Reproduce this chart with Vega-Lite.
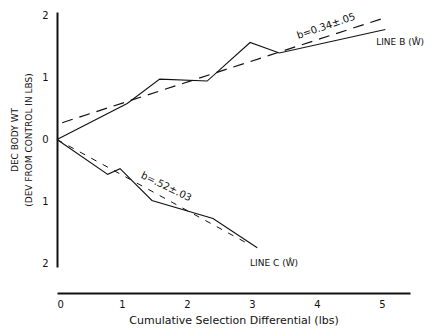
{
  "$schema": "https://vega.github.io/schema/vega-lite/v6.json",
  "autosize": "none",
  "width": 353,
  "height": 255,
  "padding": {"left": 57, "top": 12, "right": 33, "bottom": 64},
  "background": "white",
  "config": {
    "view": {"stroke": null},
    "font": "DejaVu Sans",
    "axis": {"grid": false, "domainColor": "#111", "labelColor": "#111", "titleColor": "#111", "labelFont": "DejaVu Sans", "titleFont": "DejaVu Sans", "titleFontWeight": "normal"}
  },
  "datasets": {
    "obs": [
      {"line": "B", "x": 0, "y": 0},
      {"line": "B", "x": 1.08, "y": 0.58},
      {"line": "B", "x": 1.58, "y": 0.97},
      {"line": "B", "x": 2.31, "y": 0.94},
      {"line": "B", "x": 2.97, "y": 1.56},
      {"line": "B", "x": 3.42, "y": 1.39},
      {"line": "B", "x": 5.05, "y": 1.77},
      {"line": "C", "x": 0, "y": 0},
      {"line": "C", "x": 0.78, "y": -0.56},
      {"line": "C", "x": 0.97, "y": -0.47},
      {"line": "C", "x": 1.46, "y": -0.98},
      {"line": "C", "x": 2.4, "y": -1.27},
      {"line": "C", "x": 3.08, "y": -1.74}
    ],
    "fitB": [
      {"x": 0.08, "y": 0.27},
      {"x": 5.08, "y": 1.97}
    ],
    "fitC": [
      {"x": 0, "y": 0},
      {"x": 2.98, "y": -1.7}
    ],
    "slopes": [
      {"x": 4.14, "y": 1.82, "text": "b=0.34±.05", "angle": -19},
      {"x": 1.68, "y": -0.76, "text": "b=.52±.03", "angle": 26}
    ],
    "names": [
      {"x": 4.91, "y": 1.56, "text": "LINE  B (Ŵ)"},
      {"x": 2.97, "y": -1.98, "text": "LINE  C (Ŵ)"}
    ]
  },
  "layer": [
    {
      "data": {"name": "obs"},
      "mark": {"type": "line", "color": "#111", "strokeWidth": 1.1},
      "encoding": {
        "x": {"field": "x", "type": "quantitative", "scale": {"domain": [0, 5.43], "nice": false, "zero": false},
          "axis": {"values": [0, 1, 2, 3, 4, 5], "format": "d", "offset": 26, "domainWidth": 2, "ticks": false, "labelPadding": 6, "labelFontSize": 10, "title": "Cumulative Selection Differential (lbs)", "titleFontSize": 11, "titlePadding": 5}},
        "y": {"field": "y", "type": "quantitative", "scale": {"domain": [-2.05, 2.05], "nice": false, "zero": false},
          "axis": {"values": [-2, -1, 0, 1, 2], "labelExpr": "abs(datum.value)", "domainWidth": 2, "ticks": false, "labelPadding": 9, "labelFontSize": 10, "title": ["DEC BODY WT", "(DEV FROM CONTROL IN LBS)"], "titleFontSize": 9, "titlePadding": 8, "titleLineHeight": 14}},
        "detail": {"field": "line"},
        "order": {"field": "x", "type": "quantitative"}
      }
    },
    {
      "data": {"name": "fitB"},
      "mark": {"type": "line", "color": "#111", "strokeWidth": 1.2, "strokeDash": [11, 7]},
      "encoding": {"x": {"field": "x", "type": "quantitative"}, "y": {"field": "y", "type": "quantitative"}}
    },
    {
      "data": {"name": "fitC"},
      "mark": {"type": "line", "color": "#111", "strokeWidth": 1, "strokeDash": [6, 7]},
      "encoding": {"x": {"field": "x", "type": "quantitative"}, "y": {"field": "y", "type": "quantitative"}}
    },
    {
      "data": {"name": "slopes"},
      "mark": {"type": "text", "color": "#111", "fontSize": 10, "baseline": "middle", "align": "center"},
      "encoding": {
        "x": {"field": "x", "type": "quantitative"},
        "y": {"field": "y", "type": "quantitative"},
        "text": {"field": "text"},
        "angle": {"field": "angle", "type": "quantitative", "scale": null}
      }
    },
    {
      "data": {"name": "names"},
      "mark": {"type": "text", "color": "#111", "fontSize": 9, "baseline": "middle", "align": "left"},
      "encoding": {
        "x": {"field": "x", "type": "quantitative"},
        "y": {"field": "y", "type": "quantitative"},
        "text": {"field": "text"}
      }
    }
  ]
}
